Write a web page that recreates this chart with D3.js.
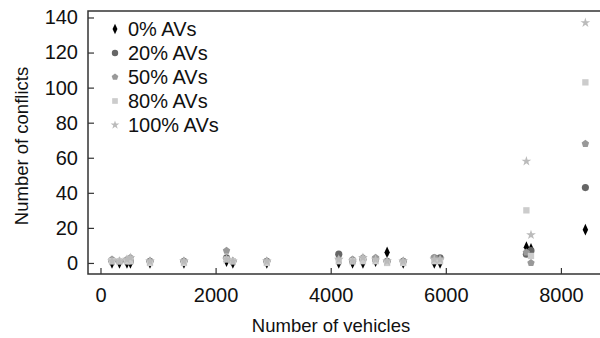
<!DOCTYPE html>
<html>
<head>
<meta charset="utf-8">
<script src="https://cdn.jsdelivr.net/npm/d3@7"></script>
<style>
  html, body { margin: 0; padding: 0; background: #fff; }
  svg { display: block; font-family: "Liberation Sans", Arial, sans-serif; }
</style>
</head>
<body>
<svg id="chart" width="600" height="338"></svg>
<script>
// Traffic volume (vehicles) at each simulated scenario
const vehicles = [200, 330, 460, 520, 860, 1450, 2190, 2300, 2890, 4140, 4380, 4560, 4780, 4980, 5260, 5800, 5900, 7400, 7480, 8425];

// Number of conflicts per AV penetration rate
const av0   = [0, 0, 0, 0, 0, 0, 1, 0, 0, 0, 0, 0, 1, 6, 0, 0, 0, 9, 8, 19];
const av20  = [1, 1, 1, 1, 1, 1, 3, 1, 1, 5, 1, 2, 2, 1, 1, 3, 3, 5, 7, 43];
const av50  = [2, 1, 2, 3, 1, 1, 7, 1, 1, 2, 2, 3, 3, 1, 1, 3, 2, 6, 0, 68];
const av80  = [1, 1, 1, 1, 0, 0, 2, 1, 0, 1, 1, 1, 1, 0, 0, 1, 1, 30, 4, 103];
const av100 = [1, 1, 2, 3, 1, 1, 2, 1, 1, 2, 1, 3, 2, 1, 1, 2, 2, 58, 16, 137];

const seriesNames = ["0% AVs", "20% AVs", "50% AVs", "80% AVs", "100% AVs"];
const xTicks = [0, 2000, 4000, 6000, 8000];
const yTicks = [0, 20, 40, 60, 80, 100, 120, 140];

// Regular pentagon symbol
const pentagon = {
  draw(ctx, size) {
    const r = Math.sqrt(size / 2.378);
    for (let i = 0; i < 5; i++) {
      const a = -Math.PI / 2 + i * 2 * Math.PI / 5;
      const px = r * Math.cos(a), py = r * Math.sin(a);
      if (i === 0) ctx.moveTo(px, py); else ctx.lineTo(px, py);
    }
    ctx.closePath();
  }
};

const series = [
  { name: seriesNames[0], values: av0,   symbol: d3.symbolDiamond, color: "#000000", size: 40, sx: 0.8 },
  { name: seriesNames[1], values: av20,  symbol: d3.symbolCircle,  color: "#666666", size: 40, sx: 1 },
  { name: seriesNames[2], values: av50,  symbol: pentagon,         color: "#999999", size: 36, sx: 1 },
  { name: seriesNames[3], values: av80,  symbol: d3.symbolSquare,  color: "#cccccc", size: 40, sx: 1 },
  { name: seriesNames[4], values: av100, symbol: d3.symbolStar,    color: "#bbbbbb", size: 30, sx: 1 }
];

const svg = d3.select("#chart");
const mLeft = 88, mRight = 600, mTop = 11, mBottom = 274;

const x = d3.scaleLinear().domain([-217, 8679]).range([mLeft, mRight]);
const y = d3.scaleLinear().domain([-6.3, 143.7]).range([mBottom, mTop]);

const axisColor = "#333";

// Frame: left, top and bottom lines
svg.append("path")
  .attr("d", `M${mRight},${mTop}H${mLeft}V${mBottom}H${mRight}`)
  .attr("fill", "none").attr("stroke", axisColor).attr("stroke-width", 1.5);

// X axis with inward ticks
const xAxis = svg.append("g").attr("transform", `translate(0,${mBottom})`)
  .call(d3.axisBottom(x).tickValues(xTicks).tickSizeInner(-6).tickSizeOuter(0).tickPadding(14).tickFormat(d3.format("d")));
xAxis.select(".domain").remove();
xAxis.selectAll(".tick line").attr("stroke", axisColor).attr("stroke-width", 1.2);
xAxis.selectAll(".tick text").attr("font-size", 20).attr("fill", "#111").attr("font-family", "Liberation Sans, Arial, sans-serif");

// Y axis with inward ticks
const yAxis = svg.append("g").attr("transform", `translate(${mLeft},0)`)
  .call(d3.axisLeft(y).tickValues(yTicks).tickSizeInner(-6).tickSizeOuter(0).tickPadding(10).tickFormat(d3.format("d")));
yAxis.select(".domain").remove();
yAxis.selectAll(".tick line").attr("stroke", axisColor).attr("stroke-width", 1.2);
yAxis.selectAll(".tick text").attr("font-size", 20).attr("fill", "#111").attr("font-family", "Liberation Sans, Arial, sans-serif");

// Axis titles
svg.append("text")
  .attr("x", 331).attr("y", 332)
  .attr("text-anchor", "middle").attr("font-size", 18.5).attr("fill", "#111")
  .text("Number of vehicles");
svg.append("text")
  .attr("transform", `translate(28,146) rotate(-90)`)
  .attr("text-anchor", "middle").attr("font-size", 18.5).attr("fill", "#111")
  .text("Number of conflicts");

// Scatter points
const plot = svg.append("g");
series.forEach(s => {
  const sym = d3.symbol().type(s.symbol).size(s.size);
  plot.append("g").selectAll("path")
    .data(s.values.map((v, i) => ({ x: vehicles[i], y: v })))
    .join("path")
    .attr("d", sym)
    .attr("transform", d => `translate(${x(d.x)},${y(d.y)}) scale(${s.sx},1)`)
    .attr("fill", s.color);
});

// Legend
const legend = svg.append("g");
series.forEach((s, i) => {
  const ly = 29 + i * 24;
  legend.append("path")
    .attr("d", d3.symbol().type(s.symbol).size(s.size * 0.8)())
    .attr("transform", `translate(115,${ly}) scale(${s.sx},1)`)
    .attr("fill", s.color);
  legend.append("text")
    .attr("x", 128).attr("y", ly).attr("dy", "0.35em")
    .attr("font-size", 20).attr("fill", "#111")
    .text(s.name);
});
</script>
</body>
</html>
